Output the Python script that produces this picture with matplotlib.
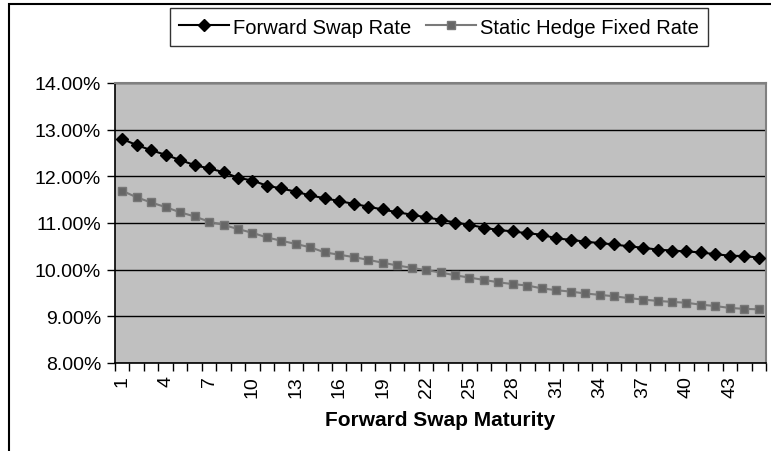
import logging
import matplotlib
matplotlib.use("Agg")
import matplotlib.pyplot as plt
from matplotlib.patches import Rectangle
from matplotlib.ticker import FuncFormatter, FixedLocator

logging.basicConfig(level=logging.INFO, format='%(asctime)s - %(levelname)s - %(message)s')
logger = logging.getLogger(__name__)

# Forward swap maturities 1..45
maturities = list(range(1, 46))

# Rates in percent
forward_swap_rate = [
    12.80, 12.67, 12.56, 12.46, 12.35, 12.24, 12.17, 12.09, 11.97, 11.91,
    11.80, 11.74, 11.67, 11.59, 11.53, 11.47, 11.41, 11.35, 11.29, 11.23,
    11.18, 11.12, 11.07, 11.01, 10.96, 10.90, 10.85, 10.82, 10.78, 10.75,
    10.67, 10.64, 10.60, 10.57, 10.54, 10.50, 10.47, 10.43, 10.41, 10.39,
    10.37, 10.33, 10.30, 10.29, 10.26,
]
static_hedge_rate = [
    11.69, 11.55, 11.44, 11.34, 11.23, 11.14, 11.03, 10.96, 10.87, 10.79,
    10.69, 10.62, 10.55, 10.48, 10.37, 10.32, 10.27, 10.21, 10.15, 10.09,
    10.04, 9.99, 9.94, 9.88, 9.83, 9.78, 9.73, 9.69, 9.66, 9.60,
    9.56, 9.53, 9.49, 9.46, 9.43, 9.39, 9.36, 9.33, 9.31, 9.29,
    9.25, 9.22, 9.18, 9.16, 9.15,
]
series_names = ["Forward Swap Rate", "Static Hedge Fixed Rate"]
y_ticks = [8, 9, 10, 11, 12, 13, 14]
x_labelled = list(range(1, 46, 3))
x_title = "Forward Swap Maturity"

FONT = ["Liberation Sans", "DejaVu Sans"]


def plot_rates(output_path: str = "out.png") -> None:
    plt.rcParams['font.family'] = FONT
    fig = plt.figure(figsize=(7.71, 4.52), dpi=100)
    ax = fig.add_axes([115 / 771, 88 / 452, 651 / 771, 280 / 452])
    ax.set_facecolor('#c0c0c0')

    ax.plot(maturities, forward_swap_rate, color='black', lw=1.5,
            marker='D', ms=6, label=series_names[0], zorder=3)
    ax.plot(maturities, static_hedge_rate, color='#7a7a7a', lw=1.5,
            marker='s', ms=6, mfc='#666666', mec='#777777',
            label=series_names[1], zorder=3)

    # y axis
    ax.set_ylim(y_ticks[0], y_ticks[-1])
    ax.set_yticks(y_ticks)
    ax.yaxis.set_major_formatter(FuncFormatter(lambda v, p: f"{v:.2f}%"))
    ax.grid(axis='y', color='black', lw=1)
    ax.set_axisbelow(True)
    ax.tick_params(axis='y', direction='out', length=6, width=1, labelsize=14, pad=4)

    # x axis: category boundaries carry the ticks, labels every third category
    ax.set_xlim(0.5, len(maturities) + 0.5)
    ax.xaxis.set_major_locator(FixedLocator([m - 0.5 for m in maturities] + [len(maturities) + 0.5]))
    ax.xaxis.set_minor_locator(FixedLocator(x_labelled))
    ax.xaxis.set_major_formatter(FuncFormatter(lambda v, p: ""))
    ax.xaxis.set_minor_formatter(FuncFormatter(lambda v, p: f"{int(round(v))}"))
    ax.tick_params(axis='x', which='major', direction='out', length=6, width=1)
    ax.tick_params(axis='x', which='minor', length=0, labelsize=14, labelrotation=90, pad=9)
    ax.set_xlabel(x_title, fontsize=15, fontweight='bold', labelpad=9)

    for side in ('top', 'right'):
        ax.spines[side].set_color('#808080')
        ax.spines[side].set_linewidth(1.5)
    for side in ('left', 'bottom'):
        ax.spines[side].set_color('black')
        ax.spines[side].set_linewidth(1.2)

    leg = fig.legend(loc='center', bbox_to_anchor=(439 / 771, 424 / 452), ncol=2,
                     fontsize=14.5, frameon=True, fancybox=False, borderpad=0.45,
                     handlelength=2.5, handletextpad=0.2, columnspacing=0.7,
                     borderaxespad=0)
    leg.get_frame().set_edgecolor('black')
    leg.get_frame().set_linewidth(1)

    # outer chart border (only top and left fall inside the picture)
    fig.patches.append(Rectangle((9 / 771, -0.1), 1.2, 0.1 + 447 / 452, fill=False,
                                 edgecolor='black', lw=1.5, transform=fig.transFigure))

    fig.savefig(output_path, dpi=100)
    logger.info(f"Plot saved to {output_path}")


if __name__ == "__main__":
    plot_rates()
